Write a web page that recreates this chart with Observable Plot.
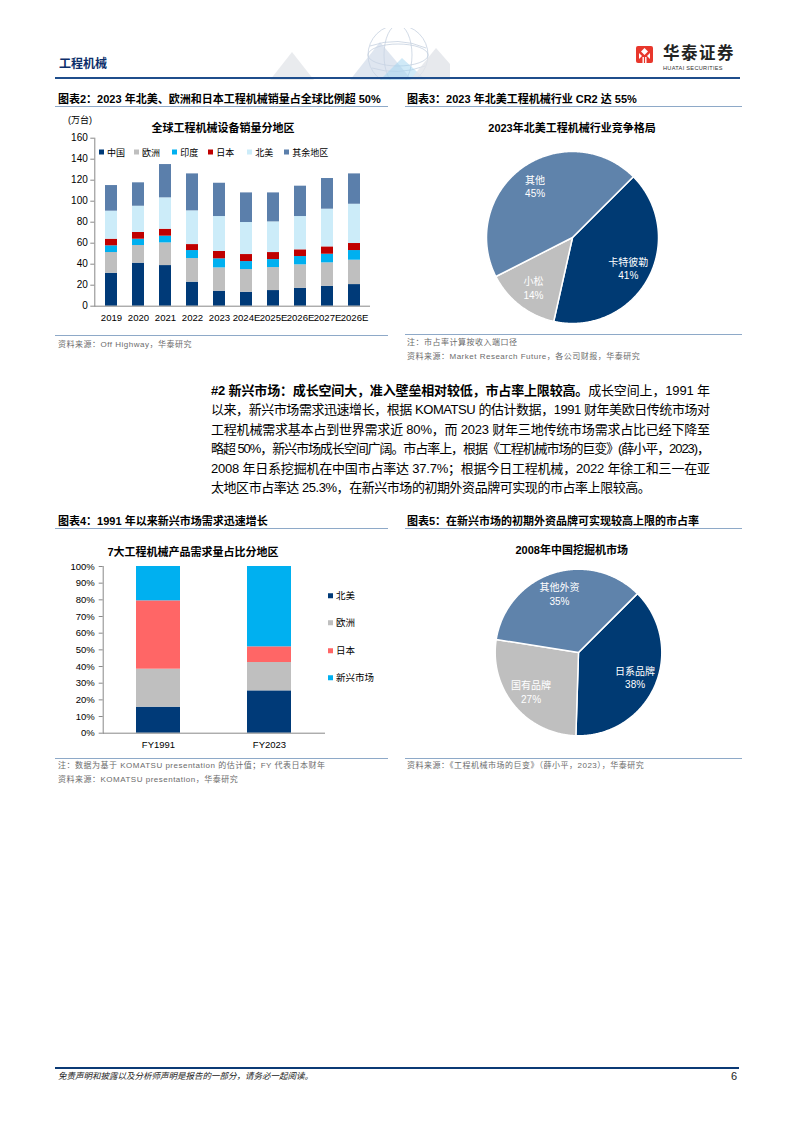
<!DOCTYPE html>
<html><head><meta charset="utf-8">
<script src="https://cdn.jsdelivr.net/npm/d3@7"></script>
<script src="https://cdn.jsdelivr.net/npm/@observablehq/plot@0.6"></script>
<style>
body{margin:0;background:#fff;}
#page{position:relative;width:794px;height:1123px;overflow:hidden;font-family:"Liberation Sans","Noto Sans CJK SC",sans-serif;color:#000;}
.t{position:absolute;white-space:nowrap;line-height:1;transform:translateY(-50%);}
.c{transform:translate(-50%,-50%);}
.ft{font-size:11px;font-weight:700;}
.ct{font-size:11px;font-weight:700;}
.hr{position:absolute;height:0;border-top:1px solid #8EA9C8;}
.src{font-size:8px;color:#6b6b6b;letter-spacing:0.5px;}
.sq{display:inline-block;width:5px;height:5px;margin-right:3px;vertical-align:middle;position:relative;top:-1px;}
.pl{position:absolute;}
.body{position:absolute;left:211px;width:499px;font-size:13px;line-height:1;}
.body div{position:absolute;left:0;white-space:nowrap;}
</style></head>
<body><div id="page">
<!-- header -->
<svg style="position:absolute;left:230px;top:28px" width="220" height="52">
  <g fill="none" stroke="#b8c6d8" stroke-width="0.7" opacity="0.9">
    <circle cx="168" cy="27" r="30"/>
    <ellipse cx="168" cy="27" rx="14" ry="30"/>
    <ellipse cx="168" cy="27" rx="30" ry="11"/>
    <path d="M140 18 Q168 8 196 20"/><path d="M142 40 Q168 48 195 38"/>
  </g>
  <polygon points="40,52 62,24 84,52" fill="#e3e6ea" opacity="0.8"/>
  <polygon points="120,52 150,14 182,52" fill="#c9d6e6" opacity="0.6"/>
  <polygon points="150,52 172,30 196,52" fill="#9fd3f0" opacity="0.5"/>
  <polygon points="180,52 206,20 220,36 220,52" fill="#e1e4e8" opacity="0.8"/>
</svg>
<div class="t" style="left:59px;top:64px;font-size:12px;font-weight:700;color:#0d2f6b">工程机械</div>
<svg style="position:absolute;left:636px;top:46px" width="17" height="17">
  <rect x="0" y="0" width="17" height="17" rx="2" fill="#e8372c"/>
  <polygon points="8.5,2 12,5.5 8.5,9 5,5.5" fill="#fff"/>
  <polygon points="3,7 6,10 3,13" fill="#fff"/><polygon points="14,7 11,10 14,13" fill="#fff"/>
  <rect x="6.5" y="11" width="1.4" height="6" fill="#fff"/><rect x="9.1" y="11" width="1.4" height="6" fill="#fff"/>
</svg>
<div class="t" style="left:663px;top:53px;font-size:16.5px;font-weight:700;color:#222;letter-spacing:1.5px">华泰证券</div>
<div class="t" style="left:663px;top:69px;font-size:5.6px;color:#333;letter-spacing:0.3px">HUATAI SECURITIES</div>
<div style="position:absolute;left:55px;top:77px;width:685px;height:2px;background:#1f4e8c"></div>

<!-- figure 2 & 3 titles -->
<div class="t ft" style="left:58px;top:99px">图表2：2023 年北美、欧洲和日本工程机械销量占全球比例超 50%</div>
<div class="hr" style="left:55px;top:106px;width:333px"></div>
<div class="t ft" style="left:407px;top:99px">图表3：2023 年北美工程机械行业 CR2 达 55%</div>
<div class="hr" style="left:405px;top:106px;width:337px"></div>

<div class="t" style="left:68px;top:119.5px;font-size:9px">(万台)</div>
<div class="t c ct" style="left:223px;top:128.3px">全球工程机械设备销量分地区</div>
<div id="chart1" class="pl" style="left:55px;top:110px"></div>
<div id="leg1"></div>
<div class="hr" style="left:55px;top:335px;width:333px"></div>
<div class="t src" style="left:58px;top:344.5px">资料来源：Off Highway，华泰研究</div>

<div class="t c ct" style="left:572px;top:128px">2023年北美工程机械行业竞争格局</div>
<div id="chart3" class="pl" style="left:472.3px;top:136.7px"></div>
<div class="hr" style="left:405px;top:334px;width:337px"></div>
<div class="t src" style="left:407px;top:343px">注：市占率计算按收入端口径</div>
<div class="t src" style="left:407px;top:357px">资料来源：Market Research Future，各公司财报，华泰研究</div>

<!-- body paragraph -->
<div class="body" style="top:0">
  <div class="j" style="top:384px"><b>#2 新兴市场：成长空间大，准入壁垒相对较低，市占率上限较高。</b>成长空间上，1991 年</div>
  <div class="j" style="top:403.3px">以来，新兴市场需求迅速增长，根据 KOMATSU 的估计数据，1991 财年美欧日传统市场对</div>
  <div class="j" style="top:422.6px">工程机械需求基本占到世界需求近 80%，而 2023 财年三地传统市场需求占比已经下降至</div>
  <div class="j" style="top:442px">略超 50%，新兴市场成长空间广阔。市占率上，根据《工程机械市场的巨变》(薛小平，2023)，</div>
  <div class="j" style="top:461.6px">2008 年日系挖掘机在中国市占率达 37.7%；根据今日工程机械，2022 年徐工和三一在亚</div>
  <div style="top:481px;letter-spacing:-0.45px">太地区市占率达 25.3%，在新兴市场的初期外资品牌可实现的市占率上限较高。</div>
</div>

<!-- figure 4 & 5 -->
<div class="t ft" style="left:58px;top:520.5px">图表4：1991 年以来新兴市场需求迅速增长</div>
<div class="hr" style="left:55px;top:528px;width:333px"></div>
<div class="t ft" style="left:407px;top:520.5px">图表5：在新兴市场的初期外资品牌可实现较高上限的市占率</div>
<div class="hr" style="left:405px;top:528px;width:337px"></div>

<div class="t c ct" style="left:193px;top:551.7px">7大工程机械产品需求量占比分地区</div>
<div id="chart4" class="pl" style="left:55px;top:556px"></div>
<div id="leg4"></div>
<div class="hr" style="left:55px;top:758px;width:333px"></div>
<div class="t src" style="left:58px;top:766px">注：数据为基于 KOMATSU presentation 的估计值；FY 代表日本财年</div>
<div class="t src" style="left:58px;top:780px">资料来源：KOMATSU presentation，华泰研究</div>

<div class="t c ct" style="left:571.7px;top:550px">2008年中国挖掘机市场</div>
<div id="chart5" class="pl" style="left:477.7px;top:551.7px"></div>
<div class="hr" style="left:405px;top:758px;width:337px"></div>
<div class="t src" style="left:407px;top:765.5px">资料来源：《工程机械市场的巨变》（薛小平，2023），华泰研究</div>

<!-- footer -->
<div style="position:absolute;left:55px;top:1067px;width:684px;height:2px;background:#0b3a75"></div>
<div class="t" style="left:58px;top:1076px;font-size:8.5px;font-style:italic;color:#222">免责声明和披露以及分析师声明是报告的一部分，请务必一起阅读。</div>
<div class="t" style="left:731px;top:1076px;font-size:11px;color:#222">6</div>
</div>
<script>
// ---------- data ----------
const years = ["2019","2020","2021","2022","2023","2024E","2025E","2026E","2027E","2026E"];
const regions1 = ["中国","欧洲","印度","日本","北美","其余地区"];
const china        = [31.4, 41.0, 38.7, 22.9, 14.3, 13.3, 14.9, 17.1, 19.0, 20.6];
const europe       = [19.7, 16.8, 21.6, 22.5, 22.2, 21.6, 21.9, 22.3, 22.3, 23.2];
const india        = [ 6.4,  6.0,  6.4,  7.6,  8.6,  7.6,  7.6,  7.9,  8.2,  9.2];
const japan        = [ 6.3,  6.4,  6.6,  5.7,  7.0,  6.7,  6.7,  6.4,  7.0,  6.7];
const northAmerica = [26.7, 25.0, 29.9, 32.1, 33.3, 30.5, 29.2, 31.7, 35.9, 37.4];
const restOfWorld  = [24.4, 22.3, 31.7, 35.2, 31.7, 28.2, 27.6, 28.9, 29.2, 28.9];
const yTicks1 = [0,20,40,60,80,100,120,140,160];
const colors1 = ["#003a78","#bfbfbf","#00b0f0","#c00000","#ccecf9","#5b7fab"];

const naLabels = ["卡特彼勒","小松","其他"];
const naShares = [41, 14, 45];
const naColors = ["#003a73","#bfbfbf","#5f83ab"];

const fyLabels = ["FY1991","FY2023"];
const regions4 = ["北美","欧洲","日本","新兴市场"];
const fyNorthAmerica = [15.6, 25.4];
const fyEurope       = [22.8, 17.0];
const fyJapan        = [41.0,  9.4];
const fyEmerging     = [20.6, 48.2];
const yTicks4 = [0,10,20,30,40,50,60,70,80,90,100];
const colors4 = ["#003a78","#bfbfbf","#ff6666","#00b0f0"];

const cnLabels = ["日系品牌","国有品牌","其他外资"];
const cnShares = [38, 27, 35];
const cnColors = ["#003a73","#bfbfbf","#5f83ab"];

const font = "Liberation Sans, Noto Sans CJK SC, sans-serif";

// ---------- justify paragraph lines ----------
document.querySelectorAll(".body div.j").forEach(el => {
  const w = el.getBoundingClientRect().width;
  const n = el.textContent.length;
  el.style.letterSpacing = ((499 - w) / (n - 1)) + "px";
});

// ---------- chart 1 ----------
const series1 = [china, europe, india, japan, northAmerica, restOfWorld];
const rows1 = [];
regions1.forEach((r, k) => series1[k].forEach((v, i) => rows1.push({i, region: r, value: v})));
const c1 = Plot.plot({
  width: 330, height: 220,
  marginLeft: 39.3, marginTop: 27.7, marginBottom: 24.3, marginRight: 15,
  x: {type: "band", domain: d3.range(years.length), paddingInner: 0.55, paddingOuter: 0.275},
  y: {domain: [0, 160]},
  color: {domain: regions1, range: colors1},
  style: {fontFamily: font, fontSize: "10px", color: "#000", background: "transparent"},
  marks: [
    Plot.barY(rows1, {x: "i", y: "value", fill: "region"}),
    Plot.axisY(yTicks1, {tickSize: 4, tickPadding: 3, label: null, stroke: "#888"}),
    Plot.axisX({tickSize: 0, tickPadding: 7.5, tickFormat: i => years[i], label: null, fontSize: 9.6}),
    Plot.frame({anchor: "left", stroke: "#888"}),
    Plot.ruleY([0], {stroke: "#888"})
  ]
});
document.getElementById("chart1").append(c1);
const leg1X = [99, 134, 172.3, 208.3, 247.3, 284.3];
document.getElementById("leg1").innerHTML = regions1.map((r, k) =>
  `<div class="t" style="left:${leg1X[k]}px;top:152.7px;font-size:9px"><span class="sq" style="background:${colors1[k]}"></span>${r}</div>`).join("");

// ---------- pie helper ----------
function pieChart(labels, shares, colors, margin) {
  const start = Math.PI / 4;
  const arcs = d3.pie().sort(null).startAngle(start).endAngle(start + 2 * Math.PI)(shares);
  const pts = [];
  arcs.forEach((a, k) => {
    pts.push({name: labels[k], x: 0, y: 0});
    const n = Math.max(4, Math.ceil((a.endAngle - a.startAngle) / 0.01));
    for (let j = 0; j <= n; j++) {
      const t = a.startAngle + (a.endAngle - a.startAngle) * j / n;
      pts.push({name: labels[k], x: Math.sin(t), y: Math.cos(t)});
    }
  });
  const lab = arcs.map((a, k) => {
    const m = (a.startAngle + a.endAngle) / 2, r = 0.74;
    return {x: r * Math.sin(m), y: r * Math.cos(m), text: `${labels[k]}\n${shares[k]}%`};
  });
  return Plot.plot({
    width: 200, height: 200, margin,
    x: {domain: [-1, 1], axis: null},
    y: {domain: [-1, 1], axis: null},
    color: {domain: labels, range: colors},
    style: {fontFamily: font, background: "transparent"},
    marks: [
      Plot.line(pts, {x: "x", y: "y", z: "name", fill: "name", stroke: "#fff", strokeWidth: 1.5, curve: "linear-closed"}),
      Plot.text(lab, {x: "x", y: "y", text: "text", fill: "#fff", fontSize: 10, lineHeight: 1.35})
    ]
  });
}
document.getElementById("chart3").append(pieChart(naLabels, naShares, naColors, 14));
document.getElementById("chart5").append(pieChart(cnLabels, cnShares, cnColors, 16.7));

// ---------- chart 4 ----------
const series4 = [fyNorthAmerica, fyEurope, fyJapan, fyEmerging];
const rows4 = [];
regions4.forEach((r, k) => series4[k].forEach((v, i) => rows4.push({fy: fyLabels[i], region: r, value: v})));
const c4 = Plot.plot({
  width: 275, height: 200,
  marginLeft: 47.7, marginTop: 10, marginBottom: 23.3, marginRight: 5,
  x: {type: "band", domain: fyLabels, paddingInner: 0.6, paddingOuter: 0.3},
  y: {domain: [0, 100]},
  color: {domain: regions4, range: colors4},
  style: {fontFamily: font, fontSize: "9.5px", color: "#000", background: "transparent"},
  marks: [
    Plot.barY(rows4, {x: "fy", y: "value", fill: "region"}),
    Plot.axisY(yTicks4, {tickSize: 4, tickPadding: 4.5, tickFormat: d => d + "%", label: null, stroke: "#888"}),
    Plot.axisX({tickSize: 0, tickPadding: 8, label: null}),
    Plot.frame({anchor: "left", stroke: "#888"}),
    Plot.ruleY([0], {stroke: "#888"})
  ]
});
document.getElementById("chart4").append(c4);
const leg4Y = [595.7, 623.3, 650.7, 677.7];
document.getElementById("leg4").innerHTML = regions4.map((r, k) =>
  `<div class="t" style="left:328px;top:${leg4Y[k]}px;font-size:9.5px"><span class="sq" style="background:${colors4[k]}"></span>${r}</div>`).join("");
</script>
</body></html>
